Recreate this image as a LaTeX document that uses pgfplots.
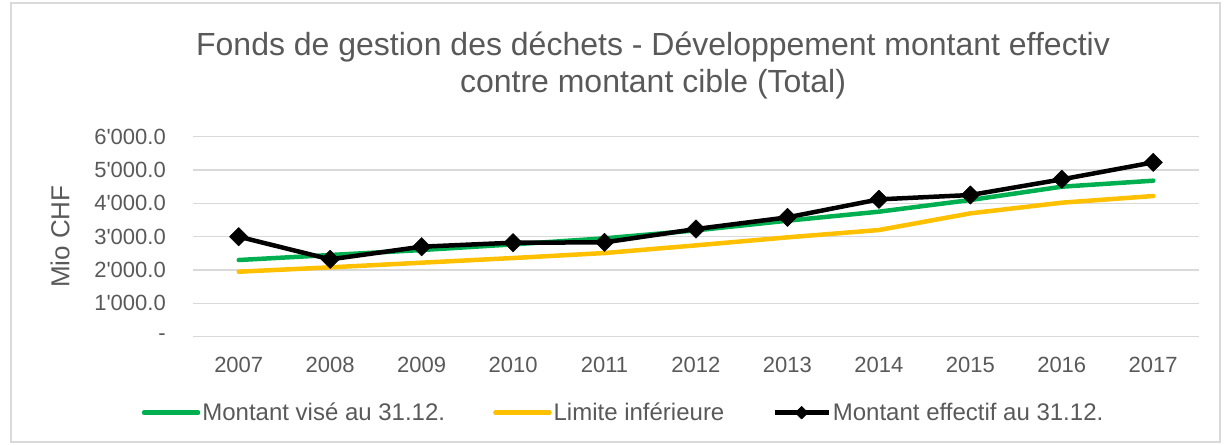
\documentclass[border=0pt]{standalone}
\usepackage{fontspec}
\setmainfont{Liberation Sans}[Ligatures=TeXOff]
\usepackage{pgfplots}
\pgfplotsset{compat=1.18}
\definecolor{txt}{HTML}{595959}
\definecolor{grd}{HTML}{D9D9D9}
\definecolor{cgreen}{HTML}{00B050}
\definecolor{cyellow}{HTML}{FFC000}
\begin{document}
\begin{tikzpicture}[x=1bp,y=1bp]
\path[use as bounding box] (0,0) rectangle (1224,445);
\draw[grd, line width=1.5bp] (11,3) rectangle (1220,442);
\begin{axis}[
  at={(193bp,108.3bp)}, anchor=south west,
  scale only axis, width=1006bp, height=200bp,
  xmin=2006.5, xmax=2017.5, ymin=0, ymax=6000,
  xtick={2007,...,2017},
  xticklabels={2007,2008,2009,2010,2011,2012,2013,2014,2015,2016,2017},
  ytick={0,1000,2000,3000,4000,5000,6000},
  yticklabels={{-\hspace{14bp}},1'000.0,2'000.0,3'000.0,4'000.0,5'000.0,6'000.0},
  ticklabel style={font=\fontsize{22bp}{26bp}\selectfont, text=txt, inner sep=0pt},
  xticklabel style={anchor=north, yshift=-20bp},
  yticklabel style={anchor=east, xshift=-27bp},
  major tick length=0pt,
  axis line style={draw=none},
  ymajorgrids, grid style={grd, line width=1.5bp},
  ylabel={Mio CHF},
  ylabel style={at={(axis description cs:-0.1322,0.5)}, anchor=center, font=\fontsize{26bp}{30bp}\selectfont, text=txt},
  clip=false,
  legend columns=3,
  legend style={at={(axis description cs:0.427,-0.38)}, anchor=center, draw=none, fill=none,
    font=\fontsize{24bp}{28bp}\selectfont, text=txt, nodes={inner sep=0pt},
    /tikz/every odd column/.append style={column sep=2bp},
    /tikz/every even column/.append style={column sep=48bp}},
  legend image code/.code={\draw[mark repeat=2,mark phase=2] plot coordinates {(0bp,0bp) (27bp,0bp) (54bp,0bp)};},
  every axis plot/.append style={line width=4.5bp, line cap=round, line join=round},
]
\addplot[cgreen, mark=none] coordinates {
(2007,2300) (2008,2450) (2009,2600) (2010,2770) (2011,2950) (2012,3190) (2013,3480) (2014,3750) (2015,4100) (2016,4500) (2017,4680)};
\addlegendentry{Montant visé au 31.12.}
\addplot[cyellow, mark=none] coordinates {
(2007,1950) (2008,2080) (2009,2220) (2010,2360) (2011,2510) (2012,2740) (2013,2980) (2014,3200) (2015,3700) (2016,4020) (2017,4220)};
\addlegendentry{Limite inférieure}
\addplot[black, line cap=butt, mark=square*, mark size=6.5bp, mark options={rotate=45, line width=0.5bp},
  legend image post style={mark size=4.5bp}] coordinates {
(2007,3000) (2008,2320) (2009,2700) (2010,2820) (2011,2830) (2012,3230) (2013,3580) (2014,4120) (2015,4250) (2016,4720) (2017,5230)};
\addlegendentry{Montant effectif au 31.12.}
\end{axis}
\node[text=txt, font=\fontsize{32bp}{36.5bp}\selectfont, align=center, anchor=base] at (653,352.5) {Fonds de gestion des déchets - Développement montant effectiv\\contre montant cible (Total)};
\end{tikzpicture}
\end{document}
